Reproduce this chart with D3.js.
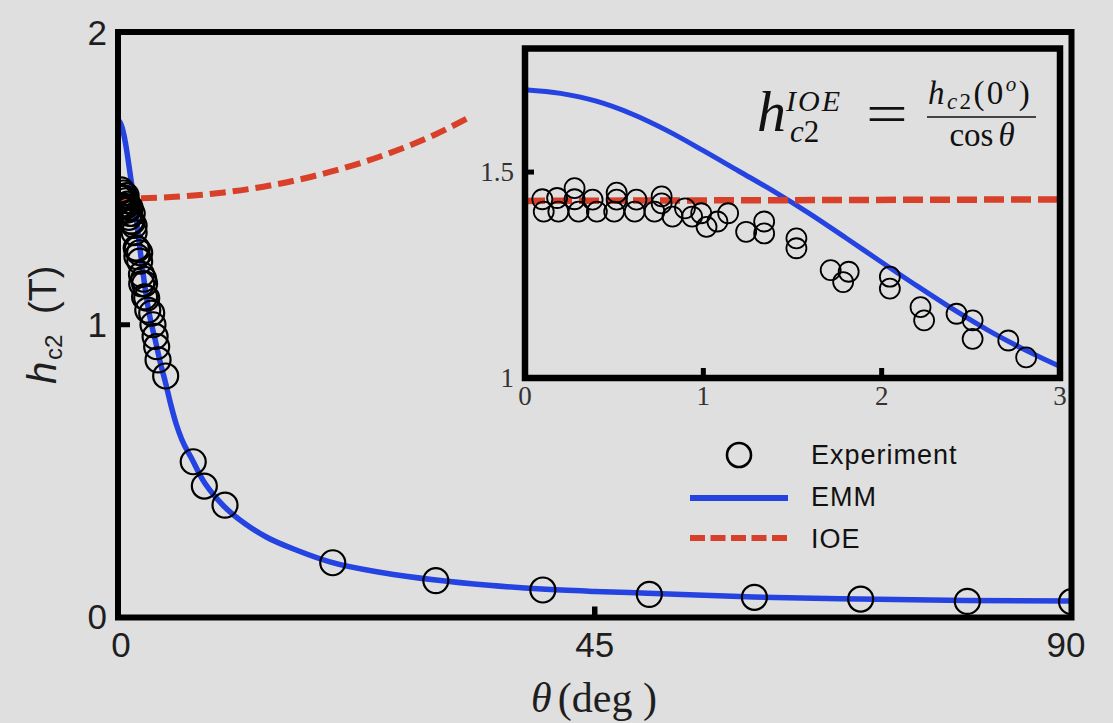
<!DOCTYPE html>
<html><head><meta charset="utf-8">
<script src="https://cdn.jsdelivr.net/npm/d3@7"></script>
<style>html,body{margin:0;padding:0;background:#dfdfdf;}svg{display:block;}</style>
</head><body>
<svg id="chart" width="1113" height="723"></svg>
<script>
// ---------- data ----------
// low-angle measurements (shown in inset and main plot)
const insetExpTheta = [0.097,0.105,0.18,0.187,0.278,0.278,0.30,0.379,0.403,0.514,0.514,0.50,0.625,0.615,0.766,0.766,0.726,0.827,0.897,0.937,0.988,1.018,1.079,1.139,1.24,1.341,1.341,1.522,1.522,1.714,1.815,1.784,2.046,2.046,2.218,2.238,2.42,2.51,2.51,2.71,2.81];
const insetExpHc2   = [1.434,1.404,1.437,1.404,1.461,1.434,1.404,1.433,1.404,1.450,1.433,1.404,1.433,1.404,1.441,1.424,1.404,1.392,1.412,1.392,1.400,1.367,1.380,1.400,1.355,1.380,1.351,1.339,1.315,1.262,1.258,1.233,1.246,1.217,1.172,1.140,1.156,1.140,1.095,1.091,1.050];
// further measurements shown only in the main plot
const extraExpTheta = [3.18,3.3,3.5,3.65,3.78,4.5,7.1,8.15,10.1,20.27,30.0,40.1,50.15,60.07,70.1,80.17,90.0];
const extraExpHc2   = [1.04,1.0,0.96,0.925,0.88,0.825,0.532,0.449,0.384,0.187,0.126,0.094,0.079,0.069,0.063,0.055,0.054];
// EMM curve
const emmTheta = [0,0.2,0.4,0.6,0.8,1.0,1.2,1.4,1.6,1.8,2.0,2.2,2.4,2.6,2.8,3.0,3.5,4.0,4.5,5.0,5.5,6.0,7.0,8.0,9.0,10,12,14,17,20,25,30,35,40,45,50,60,70,80,90];
const emmHc2   = [1.700,1.691,1.672,1.641,1.600,1.552,1.502,1.452,1.398,1.340,1.281,1.223,1.167,1.115,1.069,1.028,0.95,0.87,0.80,0.725,0.66,0.61,0.54,0.47,0.42,0.38,0.32,0.275,0.228,0.19,0.153,0.128,0.11,0.097,0.089,0.083,0.070,0.063,0.058,0.056];
// IOE curve
const ioeTheta = [0,5,10,15,20,25,30,33.4];
const ioeHc2   = [1.43,1.436,1.452,1.48,1.522,1.578,1.651,1.713];
// ticks
const mainXTicks = [0,45,90];
const mainYTicks = [0,1,2];
const insetXTicks = [0,1,2,3];
const insetYTicks = [1,1.5];
const insetYLabels = ["1","1.5"];
const legendLabels = ["Experiment","EMM","IOE"];

// ---------- drawing ----------
const BLUE = "#2443e0", RED = "#d8402a", BG = "#dfdfdf";
const svg = d3.select("#chart");
svg.append("rect").attr("width",1113).attr("height",723).attr("fill",BG);

const toPts = (xs, ys) => xs.map((x,i)=>[x, ys[i]]);
const expMain = toPts(insetExpTheta, insetExpHc2).concat(toPts(extraExpTheta, extraExpHc2));
const expInset = toPts(insetExpTheta, insetExpHc2);
const emm = toPts(emmTheta, emmHc2);
const ioe = toPts(ioeTheta, ioeHc2);

// main scales
const x = d3.scaleLinear().domain([0,90]).range([118,1071.5]);
const y = d3.scaleLinear().domain([0,2]).range([617.5,32]);

const defs = svg.append("defs");
defs.append("clipPath").attr("id","mainClip").append("rect")
  .attr("x",x(0)).attr("y",y(2)).attr("width",x(90)-x(0)).attr("height",y(0)-y(2));

const main = svg.append("g").attr("clip-path","url(#mainClip)");
const lineMain = d3.line().x(d=>x(d[0])).y(d=>y(d[1])).curve(d3.curveMonotoneX);
main.append("path").datum(emm).attr("d",lineMain).attr("fill","none")
  .attr("stroke",BLUE).attr("stroke-width",5.5);
main.append("path").datum(ioe).attr("d",lineMain).attr("fill","none")
  .attr("stroke",RED).attr("stroke-width",6).attr("stroke-dasharray","16,7");
main.selectAll("circle.m").data(expMain).join("circle").attr("class","m")
  .attr("cx",d=>x(d[0])).attr("cy",d=>y(d[1])).attr("r",12.5)
  .attr("fill","none").attr("stroke","#000").attr("stroke-width",2.2);

// main frame & ticks
svg.append("rect").attr("x",x(0)).attr("y",y(2)).attr("width",x(90)-x(0)).attr("height",y(0)-y(2))
  .attr("fill","none").attr("stroke","#000").attr("stroke-width",6);
svg.selectAll("line.mxt").data(mainXTicks.filter(v=>v>0&&v<90)).join("line").attr("class","mxt")
  .attr("x1",d=>x(d)).attr("x2",d=>x(d)).attr("y1",y(0)).attr("y2",y(0)-11)
  .attr("stroke","#000").attr("stroke-width",5.5);
svg.selectAll("line.myt").data(mainYTicks.filter(v=>v>0&&v<2)).join("line").attr("class","myt")
  .attr("x1",x(0)).attr("x2",x(0)+12).attr("y1",d=>y(d)).attr("y2",d=>y(d))
  .attr("stroke","#000").attr("stroke-width",5);

// main tick labels
svg.selectAll("text.mxl").data(mainXTicks).join("text").attr("class","mxl")
  .attr("x",d=>Math.min(Math.max(x(d),121),1066)).attr("y",657)
  .attr("text-anchor","middle").attr("font-family","'Liberation Sans',Arial,sans-serif")
  .attr("font-size",35).attr("fill","#1e1e1e").text(d=>d);
svg.selectAll("text.myl").data(mainYTicks).join("text").attr("class","myl")
  .attr("x",107).attr("y",d=>Math.max(Math.min(y(d)+12.5,629),40))
  .attr("text-anchor","end").attr("font-family","'Liberation Sans',Arial,sans-serif")
  .attr("font-size",35).attr("fill","#1e1e1e").text(d=>d);

// axis titles
const xt = svg.append("text").attr("x",594).attr("y",712).attr("text-anchor","middle")
  .attr("font-family","'Liberation Serif','Times New Roman',serif").attr("font-size",42).attr("fill","#1e1e1e");
xt.append("tspan").attr("font-style","italic").text("θ");
xt.append("tspan").attr("dx",6).text("(deg )");

const yt = svg.append("text").attr("transform","translate(56,384) rotate(-90)")
  .attr("font-family","'Liberation Sans',Arial,sans-serif").attr("fill","#1e1e1e");
yt.append("tspan").attr("x",0).attr("font-size",40).attr("font-style","italic").text("h");
yt.append("tspan").attr("x",24).attr("dy",6).attr("font-size",24).text("c2");
yt.append("tspan").attr("x",70).attr("dy",-6).attr("font-size",38).text("(T)");

// ---------- inset ----------
const xi = d3.scaleLinear().domain([0,3]).range([525,1060]);
const yi = d3.scaleLinear().domain([1,1.8]).range([378,48.5]);
defs.append("clipPath").attr("id","insetClip").append("rect")
  .attr("x",xi(0)).attr("y",yi(1.8)).attr("width",xi(3)-xi(0)).attr("height",yi(1)-yi(1.8));
svg.append("rect").attr("x",xi(0)).attr("y",yi(1.8)).attr("width",xi(3)-xi(0)).attr("height",yi(1)-yi(1.8))
  .attr("fill",BG);
const ins = svg.append("g").attr("clip-path","url(#insetClip)");
const lineIn = d3.line().x(d=>xi(d[0])).y(d=>yi(d[1])).curve(d3.curveMonotoneX);
ins.append("path").datum(emm.filter(d=>d[0]<=4)).attr("d",lineIn).attr("fill","none")
  .attr("stroke",BLUE).attr("stroke-width",5);
ins.append("path").datum(ioe.filter(d=>d[0]<=5)).attr("d",lineIn).attr("fill","none")
  .attr("stroke",RED).attr("stroke-width",6.5).attr("stroke-dasharray","20,7");
ins.selectAll("circle.i").data(expInset).join("circle").attr("class","i")
  .attr("cx",d=>xi(d[0])).attr("cy",d=>yi(d[1])).attr("r",10)
  .attr("fill","none").attr("stroke","#000").attr("stroke-width",1.8);

svg.append("rect").attr("x",xi(0)).attr("y",yi(1.8)).attr("width",xi(3)-xi(0)).attr("height",yi(1)-yi(1.8))
  .attr("fill","none").attr("stroke","#000").attr("stroke-width",6.5);
svg.selectAll("line.ixt").data(insetXTicks.filter(v=>v>0&&v<3)).join("line").attr("class","ixt")
  .attr("x1",d=>xi(d)).attr("x2",d=>xi(d)).attr("y1",yi(1)).attr("y2",yi(1)-10)
  .attr("stroke","#000").attr("stroke-width",5);
svg.selectAll("line.iyt").data(insetYTicks.filter(v=>v>1)).join("line").attr("class","iyt")
  .attr("x1",xi(0)).attr("x2",xi(0)+9).attr("y1",d=>yi(d)).attr("y2",d=>yi(d))
  .attr("stroke","#000").attr("stroke-width",5);
svg.selectAll("text.ixl").data(insetXTicks).join("text").attr("class","ixl")
  .attr("x",d=>xi(d)).attr("y",405).attr("text-anchor","middle")
  .attr("font-family","'Liberation Serif','Times New Roman',serif").attr("font-size",27)
  .attr("fill","#333").text(d=>d);
svg.selectAll("text.iyl").data(insetYTicks).join("text").attr("class","iyl")
  .attr("x",514).attr("y",d=>yi(d)+9).attr("text-anchor","end")
  .attr("font-family","'Liberation Serif','Times New Roman',serif").attr("font-size",27)
  .attr("fill","#333").text((d,i)=>insetYLabels[i]);

// formula
const serif = "'Liberation Serif','Times New Roman',serif";
const f = svg.append("g").attr("font-family",serif).attr("fill","#111");
const lhs = f.append("text").attr("x",757).attr("y",131).attr("font-style","italic");
lhs.append("tspan").attr("font-size",58).text("h");
lhs.append("tspan").attr("font-size",30).attr("dy",-20).attr("letter-spacing",2).text("IOE");
lhs.append("tspan").attr("x",790).attr("dy",31).attr("font-size",31).text("c");
lhs.append("tspan").attr("font-size",31).attr("font-style","normal").text("2");
f.append("text").attr("x",866).attr("y",133).attr("font-size",57)
  .attr("transform","translate(866,0) scale(1.3,1) translate(-866,0)").text("=");
f.append("line").attr("x1",927).attr("x2",1036).attr("y1",117).attr("y2",117)
  .attr("stroke","#111").attr("stroke-width",1.6);
const num = f.append("text").attr("x",928).attr("y",104).attr("font-size",33).attr("letter-spacing",2.4);
num.append("tspan").attr("font-style","italic").text("h");
num.append("tspan").attr("font-size",23).attr("dy",5).attr("font-style","italic").text("c");
num.append("tspan").attr("font-size",23).text("2");
num.append("tspan").attr("dy",-5).text("(0");
num.append("tspan").attr("font-size",21).attr("dy",-13).attr("font-style","italic").text("o");
num.append("tspan").attr("dy",13).text(")");
const den = f.append("text").attr("x",982).attr("y",146).attr("font-size",33).attr("text-anchor","middle");
den.append("tspan").text("cos");
den.append("tspan").attr("dx",5).attr("font-style","italic").text("θ");

// legend
const lg = svg.append("g");
lg.append("circle").attr("cx",739).attr("cy",455).attr("r",12).attr("fill","none")
  .attr("stroke","#000").attr("stroke-width",2.6);
lg.append("line").attr("x1",690).attr("x2",788).attr("y1",498).attr("y2",498)
  .attr("stroke",BLUE).attr("stroke-width",6);
lg.append("line").attr("x1",690).attr("x2",788).attr("y1",538).attr("y2",538)
  .attr("stroke",RED).attr("stroke-width",6).attr("stroke-dasharray","15,5.5");
lg.selectAll("text").data(legendLabels).join("text")
  .attr("x",811).attr("y",(d,i)=>464+i*42)
  .attr("font-family","'Liberation Sans',Arial,sans-serif").attr("font-size",27)
  .attr("letter-spacing",1).attr("fill","#111").text(d=>d);
</script>
</body></html>
